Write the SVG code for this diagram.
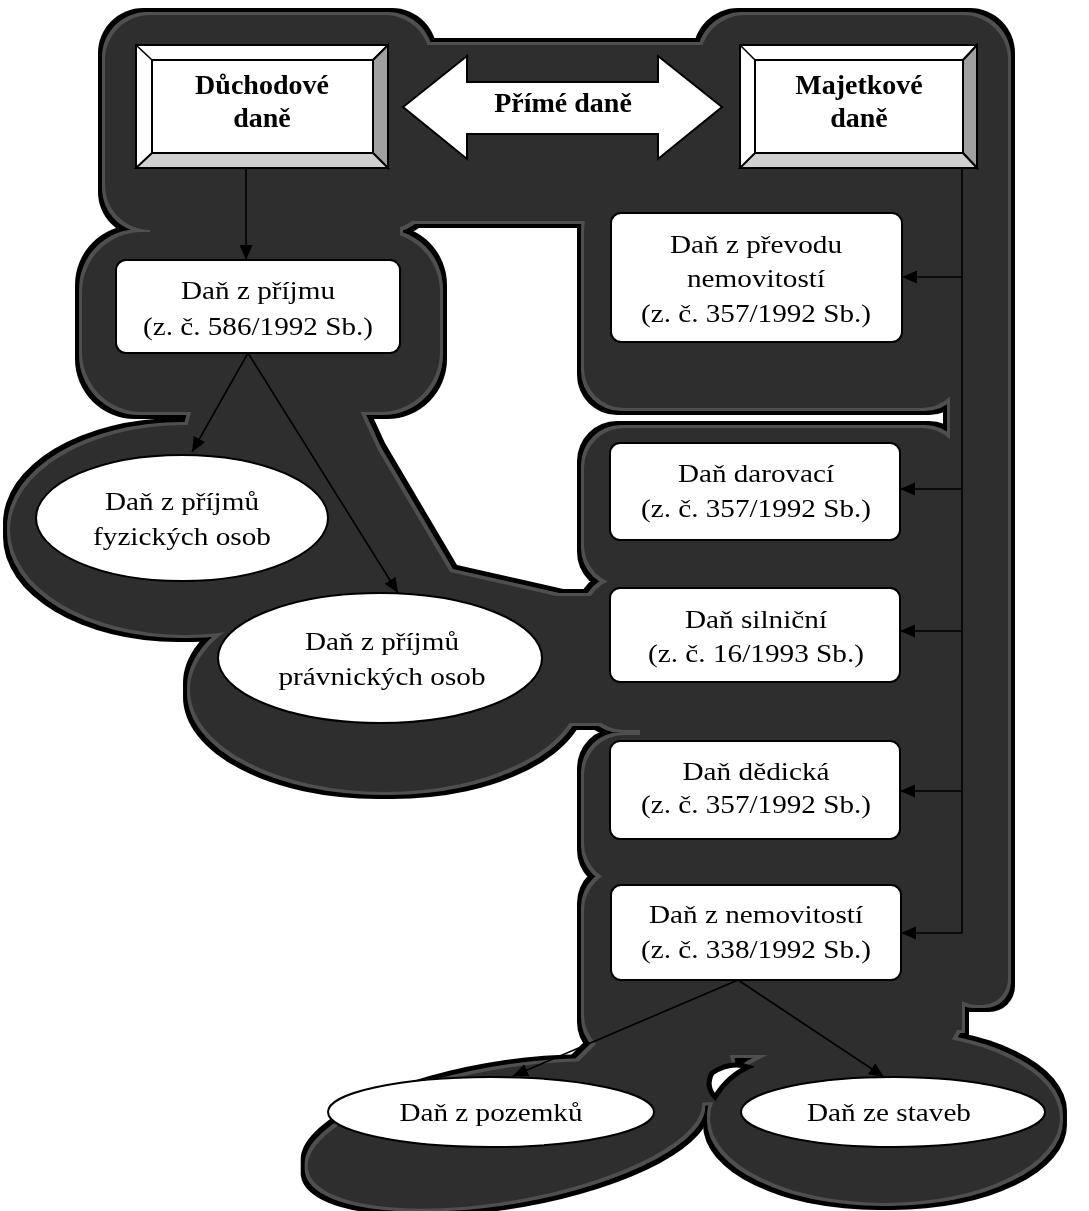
<svg xmlns="http://www.w3.org/2000/svg" xmlns:xlink="http://www.w3.org/1999/xlink" width="1089" height="1211" viewBox="0 0 1089 1211">
<style>
  .t { font-family: "Liberation Serif", "Times New Roman", serif; font-size: 26px; fill: #000; text-anchor: middle; }
  .b { font-family: "Liberation Serif", "Times New Roman", serif; font-size: 28px; font-weight: bold; fill: #000; text-anchor: middle; }
  .node { fill: #fff; stroke: #000; stroke-width: 2; }
  .bev-r { fill: #a0a0a0; stroke: #000; stroke-width: 2; }
  .bev-b { fill: #d0d0d0; stroke: #000; stroke-width: 2; }
  .edge { fill: none; stroke: #000; stroke-width: 1.6; }
</style>
<defs>
  <marker id="ah" markerUnits="userSpaceOnUse" markerWidth="16" markerHeight="14" refX="15" refY="6.5" orient="auto">
    <path d="M0,0 L15,6.5 L0,13 z" fill="#000"/>
  </marker>
  <filter id="dil7" x="-5%" y="-5%" width="110%" height="110%"><feMorphology operator="dilate" radius="7"/></filter>
  <filter id="dil3" x="-5%" y="-5%" width="110%" height="110%"><feMorphology operator="dilate" radius="3"/></filter>
  <g id="blob">
    <rect x="105" y="15" width="325" height="215" rx="45" fill="currentColor"/>
    <rect x="400" y="45" width="340" height="176" rx="15" fill="currentColor"/>
    <rect x="700" y="15" width="308" height="210" rx="45" fill="currentColor"/>
    <rect x="950" y="60" width="58" height="945" rx="26" fill="currentColor"/>
    <rect x="82" y="232" width="358" height="180" rx="60" fill="currentColor"/>
    <rect x="150" y="200" width="250" height="60" fill="currentColor"/>
    <rect x="584" y="190" width="378" height="218" rx="40" fill="currentColor"/>
    <rect x="584" y="428" width="378" height="157" rx="40" fill="currentColor"/>
    <rect x="584" y="578" width="378" height="152" rx="40" fill="currentColor"/>
    <rect x="584" y="735" width="378" height="148" rx="40" fill="currentColor"/>
    <rect x="584" y="870" width="376" height="185" rx="40" fill="currentColor"/>
    <rect x="640" y="450" width="322" height="580" fill="currentColor"/>
    <ellipse cx="185" cy="530" rx="175" ry="105" fill="currentColor"/>
    <ellipse cx="385" cy="690" rx="195" ry="102" fill="currentColor"/>
    <polygon points="200,380 355,400 378,450 450,572 565,598 565,650 300,640 150,560" fill="currentColor"/>
    <rect x="500" y="596" width="110" height="127" fill="currentColor"/>
    <ellipse cx="505" cy="1135" rx="200" ry="66" transform="rotate(-10 505 1135)" fill="currentColor"/>
    <ellipse cx="885" cy="1118" rx="175" ry="85" fill="currentColor"/>
    <polygon points="560,1080 600,1040 720,1010 740,1100 600,1110" fill="currentColor"/>
  </g>
</defs>
<rect width="1089" height="1211" fill="#fff"/>
<g id="backdrop">
  <use xlink:href="#blob" color="#000" filter="url(#dil7)"/>
  <use xlink:href="#blob" color="#505050" filter="url(#dil3)"/>
  <use xlink:href="#blob" color="#2e2e2e"/>
  <path d="M712,1073 Q730,1061 748,1067 Q728,1076 715,1097 Q705,1086 712,1073 Z" fill="#fff" stroke="#000" stroke-width="5"/>
</g>
<g id="connectors">
  <path class="edge" d="M246,168 L246,260" marker-end="url(#ah)"/>
  <path class="edge" d="M248,353 L192,452" marker-end="url(#ah)"/>
  <path class="edge" d="M248,353 L398,593" marker-end="url(#ah)"/>
  <path class="edge" d="M962,168 L962,933"/>
  <path class="edge" d="M962,277 L902,277" marker-end="url(#ah)"/>
  <path class="edge" d="M962,489 L900,489" marker-end="url(#ah)"/>
  <path class="edge" d="M962,631 L900,631" marker-end="url(#ah)"/>
  <path class="edge" d="M962,791 L900,791" marker-end="url(#ah)"/>
  <path class="edge" d="M962,933 L901,933" marker-end="url(#ah)"/>
  <path class="edge" d="M738,980 L513,1076" marker-end="url(#ah)"/>
  <path class="edge" d="M738,980 L884,1077" marker-end="url(#ah)"/>
</g>
<g id="n-duchodove">
  <rect class="node" x="136" y="45" width="252" height="123"/>
  <polygon class="bev-r" points="388,45 373,60 373,153 388,168"/>
  <polygon class="bev-b" points="136,168 152,153 373,153 388,168"/>
  <line class="edge" x1="136" y1="45" x2="152" y2="60"/>
  <line class="edge" x1="388" y1="45" x2="373" y2="60"/>
  <rect class="node" x="152" y="60" width="221" height="93"/>
  <text class="b" x="262" y="94">Důchodové</text>
  <text class="b" x="262" y="127">daně</text>
</g>
<g id="n-prime">
  <polygon class="node" points="403,107 467,56 467,82 658,82 658,56 722,107 658,159 658,134 467,134 467,159"/>
  <text class="b" x="563" y="112">Přímé daně</text>
</g>
<g id="n-majetkove">
  <rect class="node" x="740" y="45" width="237" height="123"/>
  <polygon class="bev-r" points="977,45 963,60 963,153 977,168"/>
  <polygon class="bev-b" points="740,168 755,153 963,153 977,168"/>
  <line class="edge" x1="740" y1="45" x2="755" y2="60"/>
  <line class="edge" x1="977" y1="45" x2="963" y2="60"/>
  <rect class="node" x="755" y="60" width="208" height="93"/>
  <text class="b" x="859" y="94">Majetkové</text>
  <text class="b" x="859" y="127">daně</text>
</g>
<g id="n-prijmu">
  <rect class="node" x="116" y="260" width="284" height="93" rx="10"/>
  <text class="t" x="258" y="299" textLength="154" lengthAdjust="spacingAndGlyphs">Daň z příjmu</text>
  <text class="t" x="258" y="335" textLength="230" lengthAdjust="spacingAndGlyphs">(z. č. 586/1992 Sb.)</text>
</g>
<g id="n-fyzicke">
  <ellipse class="node" cx="182" cy="518" rx="146" ry="63"/>
  <text class="t" x="182" y="510" textLength="154" lengthAdjust="spacingAndGlyphs">Daň z příjmů</text>
  <text class="t" x="182" y="545" textLength="178" lengthAdjust="spacingAndGlyphs">fyzických osob</text>
</g>
<g id="n-pravnicke">
  <ellipse class="node" cx="380" cy="658" rx="162" ry="65"/>
  <text class="t" x="382" y="650" textLength="154" lengthAdjust="spacingAndGlyphs">Daň z příjmů</text>
  <text class="t" x="382" y="685" textLength="207" lengthAdjust="spacingAndGlyphs">právnických osob</text>
</g>
<g id="n-prevod">
  <rect class="node" x="611" y="213" width="291" height="129" rx="10"/>
  <text class="t" x="756" y="253" textLength="172" lengthAdjust="spacingAndGlyphs">Daň z převodu</text>
  <text class="t" x="756" y="287" textLength="138" lengthAdjust="spacingAndGlyphs">nemovitostí</text>
  <text class="t" x="756" y="322" textLength="230" lengthAdjust="spacingAndGlyphs">(z. č. 357/1992 Sb.)</text>
</g>
<g id="n-darovaci">
  <rect class="node" x="610" y="443" width="290" height="97" rx="10"/>
  <text class="t" x="756" y="482" textLength="156" lengthAdjust="spacingAndGlyphs">Daň darovací</text>
  <text class="t" x="756" y="517" textLength="230" lengthAdjust="spacingAndGlyphs">(z. č. 357/1992 Sb.)</text>
</g>
<g id="n-silnicni">
  <rect class="node" x="610" y="588" width="290" height="94" rx="10"/>
  <text class="t" x="756" y="628" textLength="142" lengthAdjust="spacingAndGlyphs">Daň silniční</text>
  <text class="t" x="756" y="662" textLength="216" lengthAdjust="spacingAndGlyphs">(z. č. 16/1993 Sb.)</text>
</g>
<g id="n-dedicka">
  <rect class="node" x="610" y="741" width="290" height="98" rx="10"/>
  <text class="t" x="756" y="780" textLength="147" lengthAdjust="spacingAndGlyphs">Daň dědická</text>
  <text class="t" x="756" y="813" textLength="230" lengthAdjust="spacingAndGlyphs">(z. č. 357/1992 Sb.)</text>
</g>
<g id="n-nemovitosti">
  <rect class="node" x="611" y="885" width="290" height="95" rx="10"/>
  <text class="t" x="756" y="923" textLength="214" lengthAdjust="spacingAndGlyphs">Daň z nemovitostí</text>
  <text class="t" x="756" y="958" textLength="230" lengthAdjust="spacingAndGlyphs">(z. č. 338/1992 Sb.)</text>
</g>
<g id="n-pozemky">
  <ellipse class="node" cx="491" cy="1112" rx="163" ry="35"/>
  <text class="t" x="491" y="1121" textLength="183" lengthAdjust="spacingAndGlyphs">Daň z pozemků</text>
</g>
<g id="n-stavby">
  <ellipse class="node" cx="893" cy="1112" rx="152" ry="35"/>
  <text class="t" x="889" y="1121" textLength="164" lengthAdjust="spacingAndGlyphs">Daň ze staveb</text>
</g>
</svg>
